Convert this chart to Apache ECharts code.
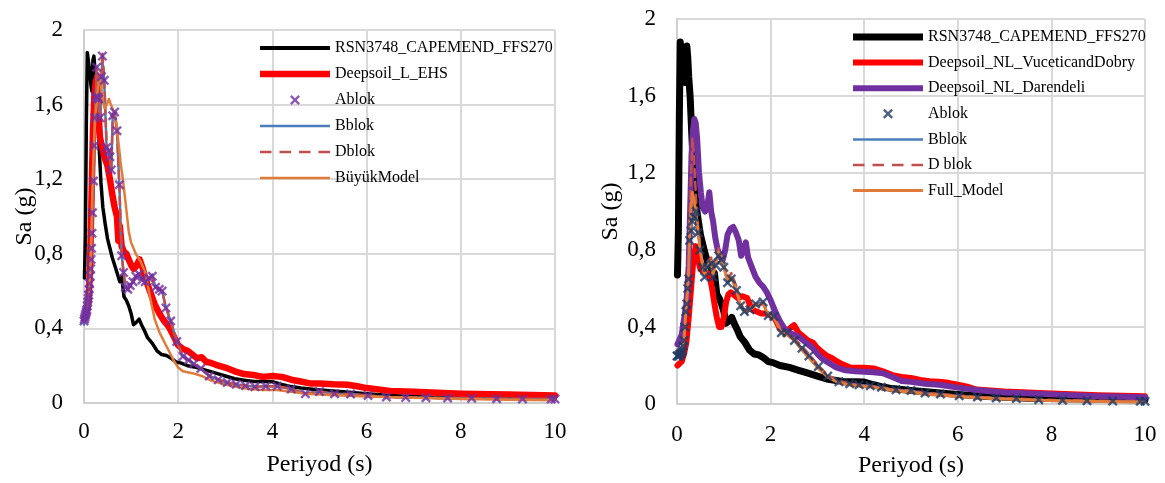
<!DOCTYPE html>
<html>
<head>
<meta charset="utf-8">
<script src="https://cdn.jsdelivr.net/npm/echarts@6/dist/echarts.min.js"></script>
<style>
html,body{margin:0;padding:0;background:#fff;}
#chart1{position:absolute;left:0;top:0;width:582px;height:483px;}
#chart2{position:absolute;left:582px;top:0;width:583px;height:483px;}
</style>
</head>
<body>
<div id="chart1"></div>
<div id="chart2"></div>
<script>
// kayıt (RSN3748) - iki grafikte aynı
var recordT=[0.01,0.03,0.05,0.07,0.09,0.11,0.13,0.15,0.17,0.19,0.21,0.23,0.25,0.28,0.32,0.36,0.4,0.45,0.5,0.55,0.6,0.65,0.7,0.73,0.76,0.8,0.85,0.9,0.95,1.0,1.05,1.1,1.17,1.22,1.28,1.35,1.45,1.55,1.65,1.75,1.85,1.95,2.05,2.2,2.4,2.6,2.8,3.0,3.2,3.4,3.6,3.8,4.0,4.2,4.4,4.6,4.8,5.0,5.5,6.0,6.5,7.0,7.5,8.0,9.0,10.0];
var recordSa=[0.67,0.9,1.5,1.88,1.89,1.80,1.75,1.70,1.67,1.84,1.86,1.80,1.70,1.6,1.38,1.18,1.05,0.96,0.88,0.83,0.78,0.74,0.70,0.69,0.65,0.68,0.57,0.55,0.52,0.48,0.42,0.43,0.45,0.42,0.39,0.35,0.32,0.28,0.26,0.255,0.24,0.22,0.215,0.20,0.19,0.175,0.16,0.145,0.13,0.122,0.115,0.115,0.114,0.10,0.088,0.08,0.075,0.07,0.06,0.05,0.04,0.035,0.03,0.028,0.025,0.022];

// sol grafik
var ehsT=[0.01,0.05,0.1,0.13,0.16,0.19,0.22,0.25,0.28,0.31,0.34,0.38,0.42,0.46,0.5,0.55,0.6,0.65,0.7,0.73,0.76,0.8,0.85,0.9,0.95,1.0,1.05,1.1,1.18,1.25,1.3,1.4,1.5,1.6,1.7,1.8,1.9,2.0,2.1,2.2,2.3,2.4,2.5,2.6,2.7,2.8,3.0,3.2,3.4,3.6,3.8,4.0,4.2,4.4,4.6,4.8,5.0,5.3,5.6,5.8,6.0,6.5,7.0,8.0,9.0,10.0];
var ehsSa=[0.45,0.47,0.55,0.75,1.1,1.45,1.65,1.72,1.75,1.55,1.42,1.38,1.33,1.30,1.27,1.20,1.12,1.05,1.0,0.87,0.95,0.84,0.81,0.80,0.77,0.74,0.72,0.73,0.77,0.72,0.67,0.60,0.53,0.48,0.44,0.41,0.36,0.31,0.29,0.28,0.26,0.24,0.245,0.22,0.215,0.205,0.19,0.17,0.155,0.15,0.14,0.145,0.14,0.125,0.115,0.105,0.105,0.10,0.098,0.09,0.08,0.065,0.06,0.05,0.045,0.04];

var blokLT=[0.0,0.01,0.02,0.03,0.04,0.05,0.06,0.07,0.08,0.09,0.1,0.11,0.12,0.13,0.14,0.15,0.16,0.17,0.18,0.2,0.22,0.23,0.25,0.27,0.29,0.31,0.34,0.37,0.39,0.43,0.48,0.52,0.55,0.58,0.61,0.65,0.7,0.75,0.8,0.84,0.88,0.93,0.98,1.04,1.1,1.17,1.23,1.3,1.38,1.45,1.52,1.6,1.66,1.74,1.84,1.97,2.1,2.22,2.33,2.48,2.66,2.85,3.04,3.23,3.43,3.63,3.86,4.1,4.4,4.7,5.0,5.32,5.66,6.03,6.42,6.83,7.26,7.72,8.23,8.76,9.31,9.92,10.0];
var ablokLSa=[0.44,0.45,0.46,0.47,0.48,0.49,0.5,0.52,0.54,0.56,0.58,0.61,0.64,0.68,0.72,0.77,0.83,0.91,1.02,1.19,1.38,1.53,1.64,1.80,1.64,1.63,1.53,1.75,1.86,1.73,1.37,1.35,1.32,1.25,1.54,1.56,1.46,1.17,0.79,0.70,0.62,0.61,0.63,0.65,0.68,0.69,0.66,0.65,0.67,0.68,0.62,0.61,0.60,0.51,0.44,0.33,0.25,0.23,0.21,0.185,0.145,0.125,0.11,0.10,0.093,0.087,0.09,0.09,0.075,0.05,0.062,0.05,0.048,0.04,0.032,0.03,0.028,0.027,0.026,0.023,0.022,0.021,0.021];
var bblokLSa=[0.42,0.43,0.45,0.46,0.47,0.49,0.5,0.52,0.54,0.56,0.58,0.61,0.64,0.68,0.72,0.77,0.83,0.91,1.02,1.19,1.38,1.53,1.64,1.78,1.64,1.63,1.53,1.72,1.84,1.72,1.37,1.35,1.32,1.25,1.54,1.56,1.46,1.17,0.79,0.70,0.62,0.61,0.63,0.65,0.68,0.69,0.66,0.65,0.67,0.68,0.62,0.61,0.60,0.51,0.44,0.33,0.25,0.23,0.21,0.185,0.145,0.125,0.11,0.10,0.093,0.087,0.09,0.09,0.075,0.05,0.062,0.05,0.048,0.04,0.032,0.03,0.028,0.027,0.026,0.023,0.022,0.021,0.021];
var dblokLSa=[0.44,0.45,0.46,0.47,0.48,0.49,0.5,0.52,0.54,0.56,0.58,0.61,0.64,0.68,0.72,0.77,0.83,0.91,1.02,1.19,1.38,1.53,1.64,1.80,1.66,1.63,1.55,1.76,1.88,1.74,1.38,1.35,1.32,1.25,1.54,1.56,1.46,1.17,0.80,0.70,0.62,0.61,0.63,0.65,0.68,0.69,0.66,0.65,0.67,0.68,0.62,0.61,0.60,0.51,0.44,0.33,0.25,0.23,0.21,0.185,0.145,0.125,0.11,0.10,0.093,0.087,0.09,0.09,0.075,0.05,0.062,0.05,0.048,0.04,0.032,0.03,0.028,0.027,0.026,0.023,0.022,0.021,0.021];

var buyukT=[0.0,0.05,0.1,0.13,0.16,0.19,0.22,0.25,0.28,0.31,0.34,0.37,0.4,0.44,0.48,0.53,0.57,0.62,0.66,0.7,0.73,0.76,0.78,0.82,0.88,0.95,1.0,1.1,1.2,1.3,1.4,1.5,1.6,1.7,1.8,1.9,2.0,2.1,2.3,2.5,2.7,2.9,3.2,3.5,3.8,4.1,4.4,4.7,5.0,5.5,6.0,7.0,8.0,9.0,10.0];
var buyukSa=[0.45,0.47,0.55,0.70,0.95,1.25,1.45,1.55,1.65,1.72,1.75,1.68,1.62,1.58,1.60,1.63,1.60,1.57,1.54,1.48,1.40,1.33,1.28,1.21,1.08,0.92,0.86,0.80,0.76,0.70,0.57,0.45,0.38,0.33,0.28,0.23,0.19,0.17,0.16,0.145,0.12,0.105,0.088,0.075,0.07,0.07,0.06,0.05,0.045,0.04,0.035,0.028,0.022,0.018,0.015];

// sağ grafik
var vdT=[0.01,0.05,0.1,0.15,0.2,0.25,0.3,0.35,0.4,0.45,0.5,0.55,0.6,0.65,0.7,0.75,0.8,0.85,0.9,0.95,1.0,1.05,1.1,1.15,1.2,1.3,1.4,1.5,1.6,1.7,1.8,1.9,2.0,2.1,2.2,2.3,2.4,2.5,2.6,2.7,2.8,2.9,3.0,3.1,3.2,3.3,3.4,3.5,3.6,3.7,3.8,4.0,4.2,4.4,4.6,4.8,5.0,5.2,5.4,5.6,5.8,6.0,6.2,6.4,7.0,8.0,9.0,10.0];
var vdSa=[0.2,0.2,0.22,0.26,0.32,0.45,0.6,0.75,0.82,0.75,0.70,0.69,0.69,0.68,0.66,0.60,0.52,0.45,0.40,0.40,0.45,0.53,0.57,0.58,0.57,0.55,0.56,0.55,0.49,0.48,0.47,0.47,0.46,0.44,0.39,0.38,0.39,0.41,0.37,0.35,0.33,0.32,0.29,0.27,0.25,0.24,0.225,0.21,0.2,0.19,0.188,0.188,0.185,0.17,0.15,0.14,0.135,0.125,0.118,0.116,0.11,0.10,0.09,0.075,0.065,0.055,0.045,0.04];

var darT=[0.01,0.05,0.1,0.15,0.2,0.25,0.28,0.31,0.34,0.37,0.4,0.43,0.47,0.51,0.55,0.6,0.65,0.69,0.73,0.77,0.82,0.87,0.93,0.98,1.03,1.08,1.14,1.2,1.26,1.32,1.37,1.42,1.47,1.52,1.6,1.68,1.76,1.84,1.92,2.0,2.1,2.2,2.3,2.4,2.5,2.6,2.7,2.8,2.9,3.0,3.1,3.2,3.3,3.4,3.6,3.8,4.0,4.2,4.4,4.6,4.8,5.0,5.3,5.6,6.0,6.5,7.0,8.0,9.0,10.0];
var darSa=[0.31,0.32,0.36,0.44,0.52,0.72,1.0,1.29,1.42,1.48,1.46,1.38,1.20,1.10,1.02,1.00,1.03,1.10,1.00,0.95,0.86,0.80,0.76,0.75,0.80,0.88,0.91,0.92,0.89,0.85,0.77,0.80,0.84,0.76,0.71,0.66,0.63,0.61,0.58,0.54,0.48,0.43,0.39,0.37,0.36,0.35,0.33,0.31,0.29,0.26,0.235,0.22,0.205,0.19,0.175,0.17,0.168,0.165,0.16,0.14,0.12,0.115,0.105,0.10,0.085,0.07,0.06,0.05,0.04,0.035];

var blokRT=[0.0,0.02,0.04,0.06,0.08,0.1,0.12,0.13,0.15,0.17,0.19,0.21,0.23,0.25,0.27,0.3,0.33,0.37,0.41,0.45,0.49,0.55,0.59,0.65,0.73,0.77,0.83,0.89,0.95,1.0,1.08,1.16,1.27,1.36,1.44,1.56,1.68,1.84,1.95,2.07,2.23,2.35,2.51,2.67,2.82,3.02,3.22,3.46,3.69,3.89,4.13,4.37,4.68,5.0,5.3,5.63,6.03,6.42,6.82,7.25,7.73,8.24,8.76,9.31,9.9,10.0];
var ablokRSa=[0.25,0.25,0.25,0.26,0.26,0.27,0.28,0.3,0.33,0.40,0.48,0.52,0.6,0.65,0.85,0.9,0.95,0.97,1.0,0.89,0.80,0.71,0.66,0.71,0.73,0.66,0.72,0.77,0.75,0.71,0.63,0.65,0.59,0.51,0.48,0.49,0.52,0.53,0.46,0.455,0.37,0.37,0.33,0.29,0.25,0.195,0.145,0.115,0.105,0.10,0.095,0.087,0.074,0.07,0.057,0.052,0.043,0.036,0.031,0.028,0.022,0.019,0.017,0.015,0.014,0.014];
var bblokRSa=[0.25,0.25,0.25,0.26,0.26,0.27,0.28,0.3,0.33,0.40,0.48,0.52,0.6,0.66,0.86,0.92,0.97,0.98,1.0,0.89,0.80,0.71,0.66,0.71,0.73,0.67,0.73,0.78,0.75,0.71,0.63,0.65,0.59,0.51,0.48,0.49,0.52,0.53,0.46,0.455,0.37,0.37,0.33,0.29,0.25,0.195,0.145,0.115,0.105,0.10,0.095,0.087,0.074,0.07,0.057,0.052,0.043,0.036,0.031,0.028,0.022,0.019,0.017,0.015,0.014,0.014];
var dblokRSa=[0.27,0.27,0.27,0.28,0.28,0.29,0.3,0.32,0.35,0.42,0.5,0.55,0.65,0.75,0.95,1.2,1.38,1.25,1.05,0.92,0.82,0.72,0.68,0.74,0.76,0.68,0.75,0.81,0.77,0.72,0.65,0.68,0.61,0.52,0.49,0.50,0.52,0.53,0.47,0.46,0.38,0.37,0.34,0.30,0.26,0.20,0.15,0.12,0.108,0.10,0.095,0.087,0.075,0.07,0.058,0.052,0.044,0.037,0.032,0.028,0.023,0.02,0.018,0.016,0.015,0.015];
var fullRSa=[0.26,0.26,0.26,0.27,0.27,0.28,0.29,0.31,0.34,0.41,0.49,0.54,0.62,0.7,0.9,1.02,1.1,1.05,0.98,0.9,0.81,0.72,0.67,0.72,0.74,0.67,0.73,0.79,0.76,0.71,0.64,0.66,0.59,0.51,0.48,0.49,0.51,0.52,0.46,0.45,0.37,0.36,0.33,0.28,0.24,0.185,0.14,0.11,0.098,0.092,0.088,0.08,0.068,0.062,0.05,0.046,0.038,0.032,0.027,0.024,0.019,0.016,0.014,0.012,0.011,0.011];

var FONT='Liberation Serif';
var X_PATH='path://M0,1.7L1.7,0L5,3.3L8.3,0L10,1.7L6.7,5L10,8.3L8.3,10L5,6.7L1.7,10L0,8.3L3.3,5Z';
var DASH_ICON='path://M0,0H11.5V2.5H0ZM19.5,0H31V2.5H19.5ZM39,0H50.5V2.5H39ZM58.5,0H70V2.5H58.5Z';
function lineIcon(w){ return 'path://M0,0H70V'+w+'H0Z'; }
function pairs(t,s){ return t.map(function(v,i){ return [v,s[i]]; }); }

function lineSeries(name,t,s,color,width,dash){
	return {
		name:name,type:'line',data:pairs(t,s),
		symbol:'none',showSymbol:false,smooth:false,animation:false,
		lineStyle:{color:color,width:width,type:dash?[8,5]:'solid',cap:'round',join:'round'},
		itemStyle:{color:color}
	};
}
function markSeries(name,t,s,color){
	return {
		name:name,type:'scatter',data:pairs(t,s),
		symbol:X_PATH,symbolSize:10,z:4,animation:false,
		itemStyle:{color:color}
	};
}
function axes(xMargin,yNameGap){
	var gl={color:'#D9D9D9',width:2};
	return {
		xAxis:{
			type:'value',min:0,max:10,interval:2,
			name:'Periyod (s)',nameLocation:'middle',nameGap:50,
			nameTextStyle:{fontFamily:FONT,fontSize:24,color:'#000'},
			axisLine:{show:true,lineStyle:{color:'#CFCFCF',width:2}},
			axisTick:{show:false},
			axisLabel:{margin:xMargin,fontFamily:FONT,fontSize:23,color:'#000'},
			splitLine:{show:true,lineStyle:gl}
		},
		yAxis:{
			type:'value',min:0,max:2,interval:0.4,
			name:'Sa (g)',nameLocation:'middle',nameGap:yNameGap,nameMoveOverlap:false,
			nameTextStyle:{fontFamily:FONT,fontSize:24,color:'#000'},
			axisLine:{show:true,lineStyle:{color:'#CFCFCF',width:2}},
			axisTick:{show:false},
			axisLabel:{margin:21,fontFamily:FONT,fontSize:23,color:'#000',
				formatter:function(v){ return String(+v.toFixed(1)).replace('.',','); }},
			splitLine:{show:true,lineStyle:gl}
		}
	};
}

function chart1(){
	var a=echarts.init(document.getElementById('chart1'));
	var ax=axes(17,47);
	var option={
		animation:false,
		grid:{left:84,top:30,width:471,height:373},
		xAxis:ax.xAxis,yAxis:ax.yAxis,
		legend:{
			orient:'vertical',left:255,top:35,itemWidth:70,itemHeight:10,itemGap:10,
			itemStyle:{borderWidth:0},
			textStyle:{fontFamily:FONT,fontSize:16,color:'#000'},
			data:[
				{name:'RSN3748_CAPEMEND_FFS270',icon:lineIcon(4)},
				{name:'Deepsoil_L_EHS',icon:lineIcon(6.5)},
				{name:'Ablok',icon:X_PATH},
				{name:'Bblok',icon:lineIcon(2.5)},
				{name:'Dblok',icon:DASH_ICON},
				{name:'BüyükModel',icon:lineIcon(2.5)}
			]
		},
		series:[
			lineSeries('RSN3748_CAPEMEND_FFS270',recordT,recordSa,'#000000',3.5),
			lineSeries('Deepsoil_L_EHS',ehsT,ehsSa,'#FF0000',6.5),
			markSeries('Ablok',blokLT,ablokLSa,'#7030A0'),
			lineSeries('Bblok',blokLT,bblokLSa,'#4A7EBB',2.5),
			lineSeries('Dblok',blokLT,dblokLSa,'#C0504D',2.5,true),
			lineSeries('BüyükModel',buyukT,buyukSa,'#E07B39',2.5)
		]
	};
	a.setOption(option);
}

function chart2(){
	var b=echarts.init(document.getElementById('chart2'));
	var ax=axes(19,54);
	var option={
		animation:false,
		grid:{left:95,top:19,width:468,height:385},
		xAxis:ax.xAxis,yAxis:ax.yAxis,
		legend:{
			orient:'vertical',left:266,top:24,itemWidth:70,itemHeight:10,itemGap:9.6,
			itemStyle:{borderWidth:0},
			textStyle:{fontFamily:FONT,fontSize:16,color:'#000'},
			data:[
				{name:'RSN3748_CAPEMEND_FFS270',icon:lineIcon(7)},
				{name:'Deepsoil_NL_VuceticandDobry',icon:lineIcon(6)},
				{name:'Deepsoil_NL_Darendeli',icon:lineIcon(6)},
				{name:'Ablok',icon:X_PATH},
				{name:'Bblok',icon:lineIcon(2.5)},
				{name:'D blok',icon:DASH_ICON},
				{name:'Full_Model',icon:lineIcon(3)}
			]
		},
		series:[
			lineSeries('RSN3748_CAPEMEND_FFS270',recordT,recordSa,'#000000',7),
			lineSeries('Deepsoil_NL_VuceticandDobry',vdT,vdSa,'#FF0000',6),
			lineSeries('Deepsoil_NL_Darendeli',darT,darSa,'#7030A0',6),
			markSeries('Ablok',blokRT,ablokRSa,'#1F3864'),
			lineSeries('Bblok',blokRT,bblokRSa,'#4A7EBB',2),
			lineSeries('D blok',blokRT,dblokRSa,'#C0504D',2.5,true),
			lineSeries('Full_Model',blokRT,fullRSa,'#E07B39',3)
		]
	};
	b.setOption(option);
}

chart1();
chart2();
</script>
</body>
</html>
